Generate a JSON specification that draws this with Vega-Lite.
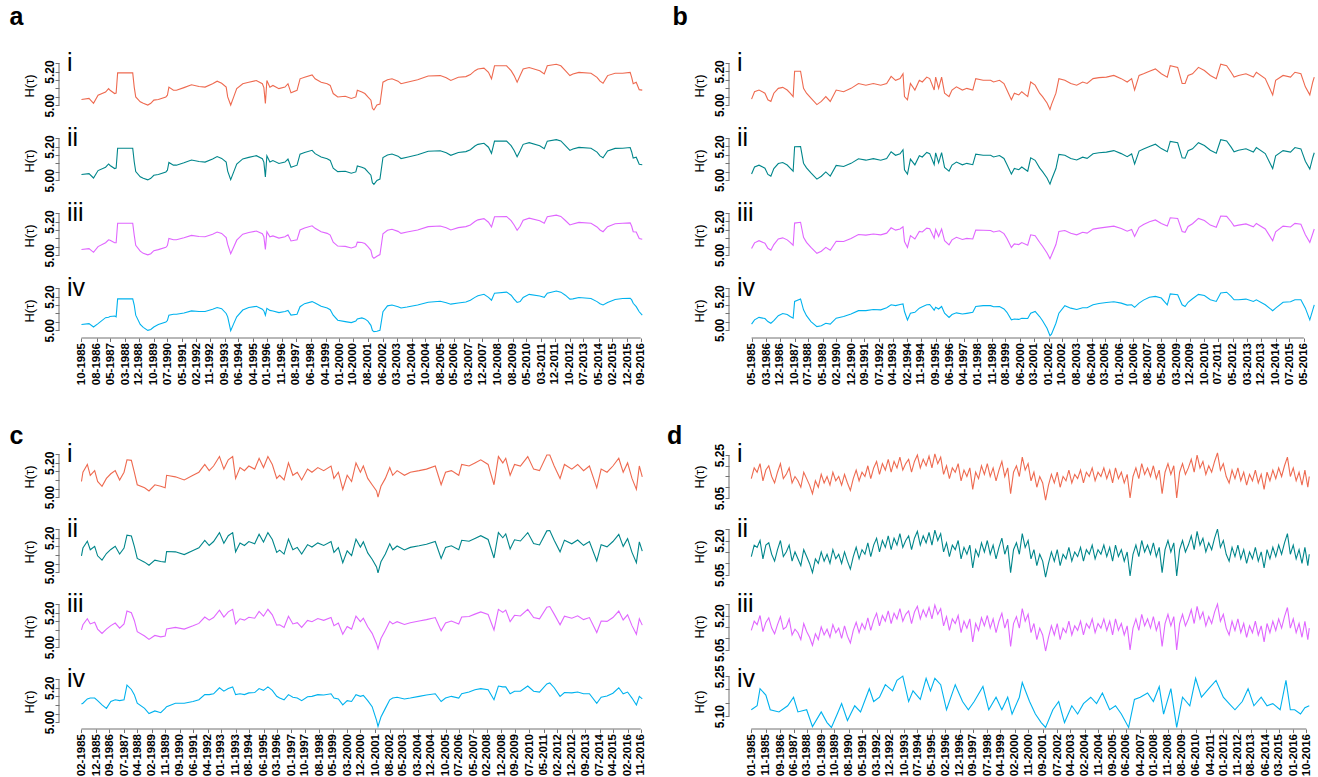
{
"$schema":"https://vega.github.io/schema/vega-lite/v6.json",
"background":"white",
"padding":{"left":9,"top":5,"right":0,"bottom":0},
"config":{
 "view":{"stroke":null},
 "font":"Liberation Sans",
 "axis":{"grid":false,"domain":false,"tickColor":"#707070","tickSize":4,"tickWidth":1,"labelColor":"black","labelFont":"Liberation Sans","titleFont":"Liberation Sans","labelFontWeight":"bold","labelFontSize":12,"titleFontWeight":"normal","titleFontSize":13,"titleColor":"black","labelOverlap":false,"labelFlush":false,"labelBound":false},
 "axisY":{"labelAngle":-90,"labelAlign":"center","labelBaseline":"alphabetic","labelPadding":2,"titlePadding":7},
 "axisX":{"labelAngle":-90,"labelAlign":"right","labelBaseline":"middle","labelPadding":1,"tickSize":3.5,"labelFontSize":11.5},
 "rule":{"color":"#707070","strokeWidth":1},
 "text":{"font":"Liberation Sans","color":"black"}
},
"datasets":{
"A":[
{"x":9,"i":5.035,"ii":5.035,"iii":5.035,"iv":5.035},
{"x":14,"i":5.041,"ii":5.04,"iii":5.04,"iv":5.04},
{"x":17,"i":5.012,"ii":5.014,"iii":5.018,"iv":5.02},
{"x":20,"i":5.06,"ii":5.058,"iii":5.052,"iv":5.04},
{"x":25,"i":5.079,"ii":5.078,"iii":5.075,"iv":5.075},
{"x":27,"i":5.099,"ii":5.097,"iii":5.092,"iv":5.078},
{"x":28,"i":5.089,"ii":5.088,"iii":5.09,"iv":5.082},
{"x":31,"i":5.07,"ii":5.07,"iii":5.075,"iv":5.085},
{"x":32,"i":5.073,"ii":5.073,"iii":5.075,"iv":5.08},
{"x":33,"i":5.192,"ii":5.19,"iii":5.19,"iv":5.186},
{"x":43,"i":5.192,"ii":5.19,"iii":5.19,"iv":5.186},
{"x":44,"i":5.108,"ii":5.11,"iii":5.12,"iv":5.15},
{"x":45,"i":5.05,"ii":5.052,"iii":5.06,"iv":5.09},
{"x":48,"i":5.021,"ii":5.021,"iii":5.025,"iv":5.035},
{"x":50,"i":5.012,"ii":5.012,"iii":5.012,"iv":5.018},
{"x":53,"i":5.002,"ii":5.003,"iii":5.003,"iv":5.0},
{"x":55,"i":5.012,"ii":5.012,"iii":5.01,"iv":5.005},
{"x":57,"i":5.031,"ii":5.03,"iii":5.028,"iv":5.02},
{"x":60,"i":5.035,"ii":5.035,"iii":5.034,"iv":5.035},
{"x":65,"i":5.05,"ii":5.05,"iii":5.048,"iv":5.05},
{"x":66,"i":5.06,"ii":5.06,"iii":5.058,"iv":5.058},
{"x":67,"i":5.108,"ii":5.106,"iii":5.1,"iv":5.09},
{"x":70,"i":5.089,"ii":5.09,"iii":5.092,"iv":5.095},
{"x":72,"i":5.089,"ii":5.09,"iii":5.092,"iv":5.095},
{"x":77,"i":5.105,"ii":5.104,"iii":5.104,"iv":5.103},
{"x":82,"i":5.122,"ii":5.12,"iii":5.118,"iv":5.115},
{"x":87,"i":5.112,"ii":5.112,"iii":5.112,"iv":5.112},
{"x":91,"i":5.108,"ii":5.108,"iii":5.11,"iv":5.112},
{"x":96,"i":5.128,"ii":5.126,"iii":5.125,"iv":5.125},
{"x":99,"i":5.143,"ii":5.141,"iii":5.138,"iv":5.135},
{"x":102,"i":5.131,"ii":5.13,"iii":5.13,"iv":5.128},
{"x":105,"i":5.108,"ii":5.108,"iii":5.105,"iv":5.1},
{"x":106,"i":5.05,"ii":5.055,"iii":5.065,"iv":5.08},
{"x":108,"i":5.002,"ii":5.004,"iii":5.01,"iv":4.998},
{"x":110,"i":5.05,"ii":5.05,"iii":5.05,"iv":5.04},
{"x":112,"i":5.099,"ii":5.097,"iii":5.09,"iv":5.08},
{"x":116,"i":5.128,"ii":5.127,"iii":5.125,"iv":5.12},
{"x":120,"i":5.137,"ii":5.136,"iii":5.135,"iv":5.135},
{"x":125,"i":5.147,"ii":5.146,"iii":5.144,"iv":5.142},
{"x":129,"i":5.128,"ii":5.128,"iii":5.128,"iv":5.125},
{"x":130,"i":5.105,"ii":5.108,"iii":5.11,"iv":5.115},
{"x":131,"i":5.012,"ii":5.02,"iii":5.035,"iv":5.09},
{"x":132,"i":5.147,"ii":5.145,"iii":5.14,"iv":5.13},
{"x":134,"i":5.108,"ii":5.108,"iii":5.11,"iv":5.118},
{"x":136,"i":5.118,"ii":5.117,"iii":5.115,"iv":5.115},
{"x":140,"i":5.099,"ii":5.1,"iii":5.102,"iv":5.105},
{"x":144,"i":5.108,"ii":5.108,"iii":5.11,"iv":5.112},
{"x":146,"i":5.128,"ii":5.126,"iii":5.122,"iv":5.118},
{"x":148,"i":5.074,"ii":5.078,"iii":5.085,"iv":5.09},
{"x":152,"i":5.089,"ii":5.09,"iii":5.092,"iv":5.095},
{"x":154,"i":5.157,"ii":5.155,"iii":5.15,"iv":5.14},
{"x":157,"i":5.166,"ii":5.165,"iii":5.162,"iv":5.158},
{"x":162,"i":5.18,"ii":5.178,"iii":5.175,"iv":5.17},
{"x":164,"i":5.157,"ii":5.158,"iii":5.16,"iv":5.162},
{"x":168,"i":5.137,"ii":5.138,"iii":5.14,"iv":5.142},
{"x":172,"i":5.128,"ii":5.128,"iii":5.13,"iv":5.132},
{"x":174,"i":5.118,"ii":5.118,"iii":5.12,"iv":5.122},
{"x":176,"i":5.07,"ii":5.072,"iii":5.078,"iv":5.09},
{"x":179,"i":5.05,"ii":5.052,"iii":5.055,"iv":5.06},
{"x":184,"i":5.054,"ii":5.054,"iii":5.053,"iv":5.052},
{"x":188,"i":5.041,"ii":5.042,"iii":5.044,"iv":5.046},
{"x":191,"i":5.05,"ii":5.05,"iii":5.052,"iv":5.055},
{"x":192,"i":5.089,"ii":5.085,"iii":5.078,"iv":5.068},
{"x":195,"i":5.079,"ii":5.078,"iii":5.076,"iv":5.074},
{"x":197,"i":5.07,"ii":5.07,"iii":5.07,"iv":5.068},
{"x":199,"i":5.05,"ii":5.05,"iii":5.052,"iv":5.055},
{"x":201,"i":5.031,"ii":5.031,"iii":5.03,"iv":5.03},
{"x":202,"i":4.983,"ii":4.986,"iii":4.992,"iv":5.0},
{"x":203,"i":4.973,"ii":4.976,"iii":4.983,"iv":4.993},
{"x":205,"i":5.002,"ii":5.0,"iii":4.995,"iv":4.995},
{"x":207,"i":5.008,"ii":5.008,"iii":5.005,"iv":5.0},
{"x":209,"i":5.137,"ii":5.135,"iii":5.128,"iv":5.11},
{"x":212,"i":5.151,"ii":5.15,"iii":5.148,"iv":5.145},
{"x":215,"i":5.157,"ii":5.156,"iii":5.154,"iv":5.15},
{"x":219,"i":5.143,"ii":5.143,"iii":5.142,"iv":5.14},
{"x":221,"i":5.128,"ii":5.129,"iii":5.13,"iv":5.132},
{"x":225,"i":5.137,"ii":5.137,"iii":5.138,"iv":5.138},
{"x":232,"i":5.151,"ii":5.151,"iii":5.15,"iv":5.15},
{"x":239,"i":5.174,"ii":5.172,"iii":5.17,"iv":5.166},
{"x":247,"i":5.176,"ii":5.175,"iii":5.174,"iv":5.172},
{"x":251,"i":5.163,"ii":5.163,"iii":5.163,"iv":5.163},
{"x":254,"i":5.147,"ii":5.148,"iii":5.15,"iv":5.155},
{"x":259,"i":5.166,"ii":5.165,"iii":5.164,"iv":5.162},
{"x":264,"i":5.17,"ii":5.17,"iii":5.17,"iv":5.168},
{"x":267,"i":5.182,"ii":5.181,"iii":5.18,"iv":5.178},
{"x":270,"i":5.205,"ii":5.203,"iii":5.2,"iv":5.195},
{"x":272,"i":5.215,"ii":5.213,"iii":5.21,"iv":5.205},
{"x":276,"i":5.22,"ii":5.219,"iii":5.217,"iv":5.213},
{"x":279,"i":5.195,"ii":5.196,"iii":5.196,"iv":5.195},
{"x":281,"i":5.157,"ii":5.16,"iii":5.168,"iv":5.178},
{"x":283,"i":5.234,"ii":5.232,"iii":5.228,"iv":5.22},
{"x":291,"i":5.234,"ii":5.232,"iii":5.23,"iv":5.226},
{"x":294,"i":5.205,"ii":5.205,"iii":5.205,"iv":5.208},
{"x":296,"i":5.176,"ii":5.177,"iii":5.18,"iv":5.185},
{"x":298,"i":5.137,"ii":5.14,"iii":5.148,"iv":5.165},
{"x":300,"i":5.176,"ii":5.175,"iii":5.172,"iv":5.17},
{"x":302,"i":5.215,"ii":5.213,"iii":5.208,"iv":5.195},
{"x":306,"i":5.224,"ii":5.223,"iii":5.22,"iv":5.213},
{"x":313,"i":5.205,"ii":5.205,"iii":5.205,"iv":5.203},
{"x":316,"i":5.186,"ii":5.187,"iii":5.19,"iv":5.195},
{"x":318,"i":5.234,"ii":5.232,"iii":5.228,"iv":5.22},
{"x":324,"i":5.243,"ii":5.241,"iii":5.238,"iv":5.233},
{"x":327,"i":5.234,"ii":5.233,"iii":5.23,"iv":5.226},
{"x":330,"i":5.205,"ii":5.205,"iii":5.206,"iv":5.208},
{"x":333,"i":5.176,"ii":5.177,"iii":5.18,"iv":5.185},
{"x":335,"i":5.186,"ii":5.186,"iii":5.186,"iv":5.186},
{"x":339,"i":5.195,"ii":5.195,"iii":5.195,"iv":5.194},
{"x":347,"i":5.19,"ii":5.19,"iii":5.19,"iv":5.188},
{"x":351,"i":5.166,"ii":5.167,"iii":5.168,"iv":5.17},
{"x":353,"i":5.143,"ii":5.145,"iii":5.15,"iv":5.158},
{"x":355,"i":5.131,"ii":5.134,"iii":5.14,"iv":5.15},
{"x":358,"i":5.176,"ii":5.174,"iii":5.17,"iv":5.165},
{"x":363,"i":5.19,"ii":5.189,"iii":5.187,"iv":5.183},
{"x":368,"i":5.19,"ii":5.19,"iii":5.19,"iv":5.188},
{"x":373,"i":5.195,"ii":5.194,"iii":5.192,"iv":5.19},
{"x":374,"i":5.166,"ii":5.168,"iii":5.172,"iv":5.18},
{"x":375,"i":5.128,"ii":5.132,"iii":5.14,"iv":5.16},
{"x":377,"i":5.137,"ii":5.137,"iii":5.138,"iv":5.14},
{"x":379,"i":5.093,"ii":5.095,"iii":5.1,"iv":5.11},
{"x":381,"i":5.09,"ii":5.092,"iii":5.095,"iv":5.09}
],
"B":[
{"x":4,"i":5.035,"ii":5.035,"iii":5.038,"iv":5.035},
{"x":6,"i":5.079,"ii":5.077,"iii":5.072,"iv":5.06},
{"x":9,"i":5.089,"ii":5.088,"iii":5.085,"iv":5.075},
{"x":13,"i":5.07,"ii":5.07,"iii":5.07,"iv":5.068},
{"x":15,"i":5.031,"ii":5.033,"iii":5.04,"iv":5.05},
{"x":17,"i":5.021,"ii":5.023,"iii":5.028,"iv":5.04},
{"x":19,"i":5.07,"ii":5.068,"iii":5.062,"iv":5.055},
{"x":22,"i":5.099,"ii":5.098,"iii":5.095,"iv":5.085},
{"x":25,"i":5.105,"ii":5.104,"iii":5.102,"iv":5.098},
{"x":28,"i":5.089,"ii":5.089,"iii":5.09,"iv":5.092},
{"x":30,"i":5.07,"ii":5.071,"iii":5.075,"iv":5.08},
{"x":32,"i":5.05,"ii":5.052,"iii":5.058,"iv":5.07},
{"x":33,"i":5.201,"ii":5.198,"iii":5.19,"iv":5.17},
{"x":37,"i":5.201,"ii":5.199,"iii":5.195,"iv":5.185},
{"x":39,"i":5.099,"ii":5.1,"iii":5.105,"iv":5.12},
{"x":41,"i":5.07,"ii":5.072,"iii":5.075,"iv":5.085},
{"x":44,"i":5.041,"ii":5.042,"iii":5.045,"iv":5.05},
{"x":48,"i":5.002,"ii":5.005,"iii":5.01,"iv":5.02},
{"x":51,"i":5.021,"ii":5.022,"iii":5.022,"iv":5.025},
{"x":54,"i":5.05,"ii":5.048,"iii":5.045,"iv":5.04},
{"x":57,"i":5.021,"ii":5.023,"iii":5.028,"iv":5.035},
{"x":61,"i":5.089,"ii":5.087,"iii":5.082,"iv":5.07},
{"x":66,"i":5.079,"ii":5.08,"iii":5.08,"iv":5.08},
{"x":71,"i":5.099,"ii":5.099,"iii":5.098,"iv":5.095},
{"x":76,"i":5.128,"ii":5.126,"iii":5.122,"iv":5.115},
{"x":81,"i":5.118,"ii":5.118,"iii":5.118,"iv":5.115},
{"x":86,"i":5.128,"ii":5.127,"iii":5.125,"iv":5.122},
{"x":91,"i":5.118,"ii":5.118,"iii":5.12,"iv":5.12},
{"x":95,"i":5.128,"ii":5.128,"iii":5.13,"iv":5.132},
{"x":98,"i":5.17,"ii":5.168,"iii":5.162,"iv":5.15},
{"x":101,"i":5.147,"ii":5.147,"iii":5.148,"iv":5.145},
{"x":104,"i":5.157,"ii":5.156,"iii":5.155,"iv":5.152},
{"x":106,"i":5.186,"ii":5.18,"iii":5.168,"iv":5.155},
{"x":107,"i":5.05,"ii":5.06,"iii":5.08,"iv":5.11},
{"x":109,"i":5.031,"ii":5.035,"iii":5.045,"iv":5.06},
{"x":111,"i":5.128,"ii":5.124,"iii":5.115,"iv":5.1},
{"x":114,"i":5.089,"ii":5.09,"iii":5.095,"iv":5.105},
{"x":117,"i":5.147,"ii":5.145,"iii":5.14,"iv":5.13},
{"x":119,"i":5.137,"ii":5.137,"iii":5.137,"iv":5.138},
{"x":122,"i":5.166,"ii":5.164,"iii":5.16,"iv":5.15},
{"x":124,"i":5.157,"ii":5.157,"iii":5.156,"iv":5.152},
{"x":127,"i":5.089,"ii":5.092,"iii":5.1,"iv":5.118},
{"x":128,"i":5.166,"ii":5.162,"iii":5.152,"iv":5.135},
{"x":130,"i":5.099,"ii":5.102,"iii":5.11,"iv":5.125},
{"x":132,"i":5.166,"ii":5.163,"iii":5.155,"iv":5.14},
{"x":134,"i":5.07,"ii":5.075,"iii":5.085,"iv":5.1},
{"x":137,"i":5.05,"ii":5.053,"iii":5.06,"iv":5.075},
{"x":139,"i":5.089,"ii":5.089,"iii":5.09,"iv":5.092},
{"x":142,"i":5.108,"ii":5.107,"iii":5.105,"iv":5.102},
{"x":146,"i":5.089,"ii":5.09,"iii":5.092,"iv":5.095},
{"x":149,"i":5.099,"ii":5.099,"iii":5.099,"iv":5.099},
{"x":153,"i":5.089,"ii":5.091,"iii":5.095,"iv":5.105},
{"x":155,"i":5.157,"ii":5.154,"iii":5.148,"iv":5.14},
{"x":160,"i":5.147,"ii":5.147,"iii":5.147,"iv":5.145},
{"x":165,"i":5.147,"ii":5.147,"iii":5.146,"iv":5.145},
{"x":167,"i":5.137,"ii":5.137,"iii":5.137,"iv":5.138},
{"x":171,"i":5.147,"ii":5.146,"iii":5.144,"iv":5.14},
{"x":174,"i":5.128,"ii":5.128,"iii":5.127,"iv":5.125},
{"x":176,"i":5.089,"ii":5.092,"iii":5.098,"iv":5.105},
{"x":179,"i":5.031,"ii":5.035,"iii":5.045,"iv":5.06},
{"x":181,"i":5.07,"ii":5.069,"iii":5.066,"iv":5.065},
{"x":184,"i":5.06,"ii":5.061,"iii":5.062,"iv":5.063},
{"x":186,"i":5.079,"ii":5.077,"iii":5.074,"iv":5.07},
{"x":190,"i":5.05,"ii":5.052,"iii":5.058,"iv":5.068},
{"x":192,"i":5.137,"ii":5.132,"iii":5.12,"iv":5.1},
{"x":195,"i":5.118,"ii":5.117,"iii":5.115,"iv":5.11},
{"x":198,"i":5.07,"ii":5.072,"iii":5.076,"iv":5.08},
{"x":200,"i":5.05,"ii":5.05,"iii":5.052,"iv":5.055},
{"x":203,"i":5.012,"ii":5.012,"iii":5.012,"iv":5.01},
{"x":205,"i":4.973,"ii":4.975,"iii":4.978,"iv":4.965},
{"x":206,"i":5.002,"ii":5.001,"iii":4.998,"iv":4.975},
{"x":209,"i":5.07,"ii":5.068,"iii":5.062,"iv":5.04},
{"x":211,"i":5.157,"ii":5.152,"iii":5.14,"iv":5.1},
{"x":215,"i":5.147,"ii":5.147,"iii":5.146,"iv":5.145},
{"x":219,"i":5.128,"ii":5.128,"iii":5.129,"iv":5.13},
{"x":223,"i":5.118,"ii":5.119,"iii":5.12,"iv":5.122},
{"x":227,"i":5.137,"ii":5.136,"iii":5.135,"iv":5.132},
{"x":230,"i":5.128,"ii":5.129,"iii":5.13,"iv":5.132},
{"x":234,"i":5.157,"ii":5.156,"iii":5.154,"iv":5.15},
{"x":238,"i":5.163,"ii":5.162,"iii":5.16,"iv":5.158},
{"x":243,"i":5.166,"ii":5.166,"iii":5.166,"iv":5.164},
{"x":248,"i":5.176,"ii":5.175,"iii":5.172,"iv":5.168},
{"x":253,"i":5.157,"ii":5.157,"iii":5.158,"iv":5.16},
{"x":257,"i":5.137,"ii":5.139,"iii":5.142,"iv":5.148},
{"x":260,"i":5.157,"ii":5.155,"iii":5.152,"iv":5.15},
{"x":262,"i":5.089,"ii":5.095,"iii":5.11,"iv":5.135},
{"x":265,"i":5.176,"ii":5.172,"iii":5.165,"iv":5.16},
{"x":268,"i":5.186,"ii":5.185,"iii":5.182,"iv":5.178},
{"x":272,"i":5.201,"ii":5.2,"iii":5.198,"iv":5.195},
{"x":276,"i":5.215,"ii":5.213,"iii":5.209,"iv":5.2},
{"x":280,"i":5.186,"ii":5.187,"iii":5.188,"iv":5.19},
{"x":284,"i":5.166,"ii":5.168,"iii":5.172,"iv":5.15},
{"x":286,"i":5.234,"ii":5.23,"iii":5.222,"iv":5.215},
{"x":291,"i":5.224,"ii":5.222,"iii":5.218,"iv":5.21},
{"x":294,"i":5.128,"ii":5.132,"iii":5.14,"iv":5.15},
{"x":296,"i":5.128,"ii":5.13,"iii":5.135,"iv":5.14},
{"x":298,"i":5.176,"ii":5.174,"iii":5.17,"iv":5.165},
{"x":301,"i":5.186,"ii":5.186,"iii":5.186,"iv":5.186},
{"x":305,"i":5.224,"ii":5.222,"iii":5.218,"iv":5.212},
{"x":309,"i":5.205,"ii":5.205,"iii":5.205,"iv":5.205},
{"x":313,"i":5.176,"ii":5.177,"iii":5.178,"iv":5.18},
{"x":317,"i":5.157,"ii":5.16,"iii":5.165,"iv":5.17},
{"x":320,"i":5.243,"ii":5.24,"iii":5.232,"iv":5.22},
{"x":324,"i":5.234,"ii":5.233,"iii":5.23,"iv":5.225},
{"x":327,"i":5.195,"ii":5.196,"iii":5.198,"iv":5.2},
{"x":329,"i":5.166,"ii":5.168,"iii":5.172,"iv":5.18},
{"x":332,"i":5.176,"ii":5.177,"iii":5.178,"iv":5.18},
{"x":337,"i":5.186,"ii":5.186,"iii":5.185,"iv":5.184},
{"x":342,"i":5.166,"ii":5.167,"iii":5.168,"iv":5.17},
{"x":344,"i":5.195,"ii":5.193,"iii":5.188,"iv":5.18},
{"x":350,"i":5.157,"ii":5.157,"iii":5.155,"iv":5.15},
{"x":355,"i":5.06,"ii":5.068,"iii":5.085,"iv":5.115},
{"x":357,"i":5.147,"ii":5.144,"iii":5.138,"iv":5.13},
{"x":362,"i":5.176,"ii":5.175,"iii":5.172,"iv":5.165},
{"x":367,"i":5.166,"ii":5.166,"iii":5.167,"iv":5.168},
{"x":370,"i":5.195,"ii":5.193,"iii":5.188,"iv":5.18},
{"x":374,"i":5.186,"ii":5.185,"iii":5.183,"iv":5.18},
{"x":377,"i":5.108,"ii":5.112,"iii":5.12,"iv":5.13},
{"x":380,"i":5.06,"ii":5.065,"iii":5.075,"iv":5.06},
{"x":382,"i":5.137,"ii":5.134,"iii":5.128,"iv":5.12},
{"x":383,"i":5.166,"ii":5.162,"iii":5.155,"iv":5.15}
],
"C":[
{"x":1,"i":5.091,"ii":5.095,"iii":5.1,"iv":5.105},
{"x":2,"i":5.145,"ii":5.14,"iii":5.13,"iv":5.11},
{"x":5,"i":5.19,"ii":5.18,"iii":5.165,"iv":5.135},
{"x":7,"i":5.127,"ii":5.13,"iii":5.135,"iv":5.14},
{"x":10,"i":5.154,"ii":5.15,"iii":5.145,"iv":5.14},
{"x":12,"i":5.091,"ii":5.095,"iii":5.105,"iv":5.125},
{"x":15,"i":5.063,"ii":5.07,"iii":5.08,"iv":5.1},
{"x":18,"i":5.109,"ii":5.108,"iii":5.105,"iv":5.08},
{"x":21,"i":5.136,"ii":5.132,"iii":5.125,"iv":5.12},
{"x":24,"i":5.154,"ii":5.15,"iii":5.14,"iv":5.13},
{"x":27,"i":5.1,"ii":5.105,"iii":5.11,"iv":5.125},
{"x":30,"i":5.145,"ii":5.14,"iii":5.135,"iv":5.13},
{"x":32,"i":5.217,"ii":5.215,"iii":5.21,"iv":5.215},
{"x":35,"i":5.214,"ii":5.21,"iii":5.2,"iv":5.19},
{"x":37,"i":5.145,"ii":5.15,"iii":5.155,"iv":5.16},
{"x":39,"i":5.072,"ii":5.08,"iii":5.09,"iv":5.11},
{"x":44,"i":5.054,"ii":5.058,"iii":5.065,"iv":5.08},
{"x":47,"i":5.036,"ii":5.04,"iii":5.045,"iv":5.05},
{"x":51,"i":5.072,"ii":5.07,"iii":5.068,"iv":5.065},
{"x":55,"i":5.063,"ii":5.062,"iii":5.06,"iv":5.055},
{"x":58,"i":5.054,"ii":5.058,"iii":5.065,"iv":5.08},
{"x":59,"i":5.127,"ii":5.12,"iii":5.105,"iv":5.09},
{"x":65,"i":5.118,"ii":5.118,"iii":5.115,"iv":5.11},
{"x":71,"i":5.1,"ii":5.102,"iii":5.105,"iv":5.11},
{"x":77,"i":5.127,"ii":5.126,"iii":5.124,"iv":5.12},
{"x":81,"i":5.145,"ii":5.142,"iii":5.138,"iv":5.13},
{"x":85,"i":5.19,"ii":5.185,"iii":5.175,"iv":5.16},
{"x":88,"i":5.154,"ii":5.155,"iii":5.157,"iv":5.16},
{"x":91,"i":5.181,"ii":5.178,"iii":5.172,"iv":5.165},
{"x":95,"i":5.236,"ii":5.23,"iii":5.215,"iv":5.2},
{"x":98,"i":5.163,"ii":5.168,"iii":5.175,"iv":5.18},
{"x":101,"i":5.217,"ii":5.212,"iii":5.205,"iv":5.195},
{"x":104,"i":5.236,"ii":5.23,"iii":5.22,"iv":5.205},
{"x":106,"i":5.109,"ii":5.118,"iii":5.135,"iv":5.16},
{"x":109,"i":5.172,"ii":5.17,"iii":5.165,"iv":5.165},
{"x":112,"i":5.154,"ii":5.155,"iii":5.157,"iv":5.16},
{"x":115,"i":5.181,"ii":5.178,"iii":5.174,"iv":5.17},
{"x":119,"i":5.163,"ii":5.165,"iii":5.168,"iv":5.172},
{"x":122,"i":5.226,"ii":5.22,"iii":5.208,"iv":5.195},
{"x":125,"i":5.172,"ii":5.175,"iii":5.18,"iv":5.185},
{"x":128,"i":5.236,"ii":5.23,"iii":5.22,"iv":5.205},
{"x":131,"i":5.19,"ii":5.19,"iii":5.188,"iv":5.185},
{"x":134,"i":5.109,"ii":5.115,"iii":5.128,"iv":5.15},
{"x":136,"i":5.127,"ii":5.128,"iii":5.13,"iv":5.14},
{"x":139,"i":5.1,"ii":5.105,"iii":5.115,"iv":5.13},
{"x":142,"i":5.199,"ii":5.192,"iii":5.18,"iv":5.16},
{"x":145,"i":5.127,"ii":5.13,"iii":5.135,"iv":5.145},
{"x":148,"i":5.145,"ii":5.144,"iii":5.142,"iv":5.14},
{"x":151,"i":5.1,"ii":5.105,"iii":5.115,"iv":5.125},
{"x":155,"i":5.163,"ii":5.16,"iii":5.155,"iv":5.148},
{"x":158,"i":5.145,"ii":5.146,"iii":5.148,"iv":5.15},
{"x":162,"i":5.172,"ii":5.17,"iii":5.166,"iv":5.16},
{"x":166,"i":5.154,"ii":5.155,"iii":5.156,"iv":5.158},
{"x":171,"i":5.181,"ii":5.178,"iii":5.172,"iv":5.165},
{"x":173,"i":5.109,"ii":5.115,"iii":5.125,"iv":5.14},
{"x":176,"i":5.145,"ii":5.143,"iii":5.14,"iv":5.135},
{"x":179,"i":5.045,"ii":5.055,"iii":5.075,"iv":5.1},
{"x":182,"i":5.127,"ii":5.124,"iii":5.12,"iv":5.125},
{"x":185,"i":5.091,"ii":5.096,"iii":5.105,"iv":5.12},
{"x":188,"i":5.199,"ii":5.192,"iii":5.18,"iv":5.16},
{"x":191,"i":5.145,"ii":5.146,"iii":5.148,"iv":5.15},
{"x":193,"i":5.181,"ii":5.176,"iii":5.168,"iv":5.155},
{"x":196,"i":5.109,"ii":5.112,"iii":5.118,"iv":5.125},
{"x":199,"i":5.072,"ii":5.075,"iii":5.08,"iv":5.09},
{"x":202,"i":5.036,"ii":5.03,"iii":5.02,"iv":5.01},
{"x":203,"i":5.0,"ii":4.995,"iii":4.99,"iv":4.975},
{"x":205,"i":5.063,"ii":5.06,"iii":5.05,"iv":5.03},
{"x":208,"i":5.109,"ii":5.105,"iii":5.098,"iv":5.08},
{"x":211,"i":5.172,"ii":5.165,"iii":5.15,"iv":5.13},
{"x":213,"i":5.127,"ii":5.13,"iii":5.135,"iv":5.14},
{"x":216,"i":5.154,"ii":5.152,"iii":5.148,"iv":5.145},
{"x":221,"i":5.127,"ii":5.129,"iii":5.132,"iv":5.135},
{"x":225,"i":5.145,"ii":5.144,"iii":5.142,"iv":5.14},
{"x":231,"i":5.154,"ii":5.153,"iii":5.152,"iv":5.15},
{"x":236,"i":5.163,"ii":5.162,"iii":5.16,"iv":5.158},
{"x":242,"i":5.181,"ii":5.178,"iii":5.172,"iv":5.165},
{"x":246,"i":5.072,"ii":5.08,"iii":5.095,"iv":5.12},
{"x":249,"i":5.145,"ii":5.143,"iii":5.14,"iv":5.14},
{"x":253,"i":5.154,"ii":5.153,"iii":5.152,"iv":5.15},
{"x":258,"i":5.127,"ii":5.13,"iii":5.135,"iv":5.14},
{"x":260,"i":5.19,"ii":5.185,"iii":5.175,"iv":5.165},
{"x":265,"i":5.181,"ii":5.18,"iii":5.178,"iv":5.175},
{"x":269,"i":5.199,"ii":5.196,"iii":5.192,"iv":5.188},
{"x":273,"i":5.217,"ii":5.212,"iii":5.205,"iv":5.195},
{"x":278,"i":5.19,"ii":5.19,"iii":5.19,"iv":5.188},
{"x":282,"i":5.072,"ii":5.082,"iii":5.1,"iv":5.13},
{"x":285,"i":5.236,"ii":5.23,"iii":5.22,"iv":5.21},
{"x":288,"i":5.199,"ii":5.2,"iii":5.202,"iv":5.205},
{"x":290,"i":5.226,"ii":5.222,"iii":5.215,"iv":5.205},
{"x":293,"i":5.127,"ii":5.135,"iii":5.148,"iv":5.165},
{"x":296,"i":5.19,"ii":5.188,"iii":5.185,"iv":5.18},
{"x":300,"i":5.181,"ii":5.181,"iii":5.181,"iv":5.18},
{"x":305,"i":5.236,"ii":5.23,"iii":5.22,"iv":5.21},
{"x":309,"i":5.163,"ii":5.166,"iii":5.172,"iv":5.18},
{"x":313,"i":5.154,"ii":5.158,"iii":5.165,"iv":5.175},
{"x":318,"i":5.245,"ii":5.24,"iii":5.232,"iv":5.222},
{"x":320,"i":5.245,"ii":5.242,"iii":5.236,"iv":5.228},
{"x":323,"i":5.181,"ii":5.185,"iii":5.192,"iv":5.2},
{"x":327,"i":5.109,"ii":5.118,"iii":5.13,"iv":5.15},
{"x":330,"i":5.19,"ii":5.186,"iii":5.18,"iv":5.172},
{"x":335,"i":5.163,"ii":5.165,"iii":5.168,"iv":5.17},
{"x":339,"i":5.19,"ii":5.187,"iii":5.182,"iv":5.175},
{"x":343,"i":5.154,"ii":5.156,"iii":5.16,"iv":5.165},
{"x":347,"i":5.181,"ii":5.178,"iii":5.172,"iv":5.165},
{"x":352,"i":5.054,"ii":5.065,"iii":5.085,"iv":5.11},
{"x":355,"i":5.163,"ii":5.16,"iii":5.152,"iv":5.145},
{"x":359,"i":5.145,"ii":5.147,"iii":5.15,"iv":5.152},
{"x":363,"i":5.181,"ii":5.178,"iii":5.172,"iv":5.168},
{"x":367,"i":5.226,"ii":5.22,"iii":5.21,"iv":5.2},
{"x":370,"i":5.145,"ii":5.15,"iii":5.158,"iv":5.165},
{"x":373,"i":5.199,"ii":5.195,"iii":5.188,"iv":5.175},
{"x":376,"i":5.109,"ii":5.115,"iii":5.125,"iv":5.14},
{"x":379,"i":5.045,"ii":5.055,"iii":5.075,"iv":5.1},
{"x":381,"i":5.181,"ii":5.176,"iii":5.165,"iv":5.15},
{"x":383,"i":5.118,"ii":5.122,"iii":5.128,"iv":5.135}
],
"D":[
{"x":0,"i":5.14,"ii":5.13,"iii":5.135},
{"x":2,"i":5.19,"ii":5.18,"iii":5.175},
{"x":4,"i":5.17,"ii":5.17,"iii":5.16},
{"x":6,"i":5.21,"ii":5.2,"iii":5.2},
{"x":8,"i":5.13,"ii":5.12,"iii":5.13},
{"x":10,"i":5.18,"ii":5.18,"iii":5.17},
{"x":12,"i":5.2,"ii":5.19,"iii":5.19},
{"x":14,"i":5.15,"ii":5.14,"iii":5.145},
{"x":16,"i":5.12,"ii":5.11,"iii":5.12},
{"x":18,"i":5.17,"ii":5.16,"iii":5.16},
{"x":20,"i":5.21,"ii":5.2,"iii":5.195},
{"x":22,"i":5.14,"ii":5.13,"iii":5.14},
{"x":24,"i":5.16,"ii":5.15,"iii":5.15},
{"x":26,"i":5.19,"ii":5.18,"iii":5.185},
{"x":28,"i":5.12,"ii":5.11,"iii":5.115},
{"x":30,"i":5.15,"ii":5.15,"iii":5.14},
{"x":32,"i":5.13,"ii":5.12,"iii":5.125},
{"x":34,"i":5.1,"ii":5.09,"iii":5.095},
{"x":36,"i":5.17,"ii":5.16,"iii":5.165},
{"x":38,"i":5.14,"ii":5.13,"iii":5.13},
{"x":40,"i":5.11,"ii":5.1,"iii":5.105},
{"x":42,"i":5.07,"ii":5.06,"iii":5.07},
{"x":44,"i":5.13,"ii":5.12,"iii":5.12},
{"x":46,"i":5.1,"ii":5.1,"iii":5.095},
{"x":48,"i":5.16,"ii":5.15,"iii":5.15},
{"x":50,"i":5.12,"ii":5.11,"iii":5.115},
{"x":52,"i":5.15,"ii":5.14,"iii":5.14},
{"x":54,"i":5.11,"ii":5.1,"iii":5.105},
{"x":56,"i":5.17,"ii":5.16,"iii":5.16},
{"x":58,"i":5.13,"ii":5.12,"iii":5.125},
{"x":60,"i":5.15,"ii":5.14,"iii":5.145},
{"x":62,"i":5.11,"ii":5.1,"iii":5.1},
{"x":64,"i":5.16,"ii":5.15,"iii":5.155},
{"x":66,"i":5.12,"ii":5.11,"iii":5.11},
{"x":68,"i":5.085,"ii":5.075,"iii":5.08},
{"x":70,"i":5.14,"ii":5.13,"iii":5.135},
{"x":72,"i":5.18,"ii":5.17,"iii":5.17},
{"x":74,"i":5.13,"ii":5.12,"iii":5.125},
{"x":76,"i":5.17,"ii":5.16,"iii":5.165},
{"x":78,"i":5.15,"ii":5.14,"iii":5.14},
{"x":80,"i":5.2,"ii":5.19,"iii":5.19},
{"x":82,"i":5.14,"ii":5.13,"iii":5.135},
{"x":84,"i":5.19,"ii":5.18,"iii":5.18},
{"x":86,"i":5.22,"ii":5.21,"iii":5.21},
{"x":88,"i":5.16,"ii":5.15,"iii":5.155},
{"x":90,"i":5.21,"ii":5.2,"iii":5.2},
{"x":92,"i":5.18,"ii":5.17,"iii":5.175},
{"x":94,"i":5.23,"ii":5.22,"iii":5.22},
{"x":96,"i":5.17,"ii":5.16,"iii":5.165},
{"x":98,"i":5.22,"ii":5.21,"iii":5.21},
{"x":100,"i":5.19,"ii":5.18,"iii":5.185},
{"x":102,"i":5.24,"ii":5.23,"iii":5.23},
{"x":104,"i":5.18,"ii":5.17,"iii":5.175},
{"x":106,"i":5.21,"ii":5.2,"iii":5.205},
{"x":108,"i":5.23,"ii":5.22,"iii":5.22},
{"x":110,"i":5.17,"ii":5.16,"iii":5.165},
{"x":112,"i":5.22,"ii":5.21,"iii":5.215},
{"x":114,"i":5.25,"ii":5.24,"iii":5.24},
{"x":116,"i":5.19,"ii":5.18,"iii":5.185},
{"x":118,"i":5.23,"ii":5.22,"iii":5.225},
{"x":120,"i":5.2,"ii":5.19,"iii":5.195},
{"x":122,"i":5.245,"ii":5.235,"iii":5.235},
{"x":124,"i":5.19,"ii":5.18,"iii":5.185},
{"x":126,"i":5.255,"ii":5.245,"iii":5.245},
{"x":128,"i":5.21,"ii":5.2,"iii":5.205},
{"x":130,"i":5.24,"ii":5.23,"iii":5.23},
{"x":132,"i":5.16,"ii":5.15,"iii":5.155},
{"x":134,"i":5.2,"ii":5.19,"iii":5.195},
{"x":136,"i":5.14,"ii":5.13,"iii":5.135},
{"x":138,"i":5.19,"ii":5.18,"iii":5.185},
{"x":140,"i":5.17,"ii":5.16,"iii":5.165},
{"x":142,"i":5.21,"ii":5.2,"iii":5.2},
{"x":144,"i":5.13,"ii":5.12,"iii":5.125},
{"x":146,"i":5.18,"ii":5.17,"iii":5.175},
{"x":148,"i":5.15,"ii":5.14,"iii":5.145},
{"x":150,"i":5.19,"ii":5.18,"iii":5.185},
{"x":152,"i":5.09,"ii":5.08,"iii":5.085},
{"x":154,"i":5.17,"ii":5.16,"iii":5.165},
{"x":156,"i":5.14,"ii":5.13,"iii":5.135},
{"x":158,"i":5.2,"ii":5.19,"iii":5.19},
{"x":160,"i":5.16,"ii":5.15,"iii":5.155},
{"x":162,"i":5.21,"ii":5.2,"iii":5.2},
{"x":164,"i":5.15,"ii":5.14,"iii":5.145},
{"x":166,"i":5.19,"ii":5.18,"iii":5.185},
{"x":168,"i":5.13,"ii":5.12,"iii":5.125},
{"x":170,"i":5.18,"ii":5.17,"iii":5.175},
{"x":172,"i":5.22,"ii":5.21,"iii":5.21},
{"x":174,"i":5.15,"ii":5.14,"iii":5.145},
{"x":176,"i":5.19,"ii":5.18,"iii":5.185},
{"x":178,"i":5.07,"ii":5.06,"iii":5.065},
{"x":180,"i":5.17,"ii":5.16,"iii":5.165},
{"x":182,"i":5.2,"ii":5.19,"iii":5.195},
{"x":184,"i":5.15,"ii":5.14,"iii":5.145},
{"x":186,"i":5.24,"ii":5.23,"iii":5.23},
{"x":188,"i":5.18,"ii":5.17,"iii":5.175},
{"x":190,"i":5.21,"ii":5.2,"iii":5.205},
{"x":192,"i":5.13,"ii":5.12,"iii":5.125},
{"x":194,"i":5.17,"ii":5.16,"iii":5.165},
{"x":196,"i":5.1,"ii":5.09,"iii":5.095},
{"x":198,"i":5.15,"ii":5.14,"iii":5.145},
{"x":200,"i":5.12,"ii":5.11,"iii":5.115},
{"x":202,"i":5.04,"ii":5.04,"iii":5.045},
{"x":204,"i":5.11,"ii":5.1,"iii":5.105},
{"x":206,"i":5.16,"ii":5.15,"iii":5.155},
{"x":208,"i":5.12,"ii":5.11,"iii":5.115},
{"x":210,"i":5.17,"ii":5.16,"iii":5.165},
{"x":212,"i":5.1,"ii":5.09,"iii":5.095},
{"x":214,"i":5.15,"ii":5.14,"iii":5.145},
{"x":216,"i":5.13,"ii":5.12,"iii":5.125},
{"x":218,"i":5.18,"ii":5.17,"iii":5.175},
{"x":220,"i":5.12,"ii":5.11,"iii":5.115},
{"x":222,"i":5.16,"ii":5.15,"iii":5.155},
{"x":224,"i":5.14,"ii":5.13,"iii":5.135},
{"x":226,"i":5.18,"ii":5.17,"iii":5.175},
{"x":228,"i":5.12,"ii":5.11,"iii":5.115},
{"x":230,"i":5.17,"ii":5.16,"iii":5.165},
{"x":232,"i":5.15,"ii":5.14,"iii":5.145},
{"x":234,"i":5.19,"ii":5.18,"iii":5.185},
{"x":236,"i":5.13,"ii":5.12,"iii":5.125},
{"x":238,"i":5.17,"ii":5.16,"iii":5.165},
{"x":240,"i":5.15,"ii":5.14,"iii":5.145},
{"x":242,"i":5.19,"ii":5.18,"iii":5.185},
{"x":244,"i":5.14,"ii":5.13,"iii":5.135},
{"x":246,"i":5.18,"ii":5.17,"iii":5.175},
{"x":248,"i":5.12,"ii":5.11,"iii":5.115},
{"x":250,"i":5.19,"ii":5.18,"iii":5.185},
{"x":252,"i":5.14,"ii":5.13,"iii":5.135},
{"x":254,"i":5.17,"ii":5.16,"iii":5.165},
{"x":256,"i":5.12,"ii":5.11,"iii":5.115},
{"x":258,"i":5.16,"ii":5.15,"iii":5.155},
{"x":260,"i":5.05,"ii":5.045,"iii":5.05},
{"x":262,"i":5.15,"ii":5.14,"iii":5.145},
{"x":264,"i":5.19,"ii":5.18,"iii":5.185},
{"x":266,"i":5.14,"ii":5.13,"iii":5.135},
{"x":268,"i":5.21,"ii":5.2,"iii":5.205},
{"x":270,"i":5.16,"ii":5.15,"iii":5.155},
{"x":272,"i":5.19,"ii":5.18,"iii":5.185},
{"x":274,"i":5.15,"ii":5.14,"iii":5.145},
{"x":276,"i":5.2,"ii":5.19,"iii":5.195},
{"x":278,"i":5.14,"ii":5.13,"iii":5.135},
{"x":280,"i":5.18,"ii":5.17,"iii":5.175},
{"x":282,"i":5.07,"ii":5.06,"iii":5.065},
{"x":284,"i":5.17,"ii":5.16,"iii":5.165},
{"x":286,"i":5.21,"ii":5.2,"iii":5.205},
{"x":288,"i":5.16,"ii":5.15,"iii":5.155},
{"x":290,"i":5.2,"ii":5.19,"iii":5.195},
{"x":292,"i":5.05,"ii":5.045,"iii":5.05},
{"x":294,"i":5.17,"ii":5.16,"iii":5.165},
{"x":296,"i":5.21,"ii":5.2,"iii":5.205},
{"x":298,"i":5.16,"ii":5.15,"iii":5.155},
{"x":300,"i":5.19,"ii":5.18,"iii":5.185},
{"x":302,"i":5.23,"ii":5.22,"iii":5.225},
{"x":304,"i":5.17,"ii":5.16,"iii":5.165},
{"x":306,"i":5.25,"ii":5.24,"iii":5.24},
{"x":308,"i":5.19,"ii":5.18,"iii":5.185},
{"x":310,"i":5.22,"ii":5.21,"iii":5.215},
{"x":312,"i":5.16,"ii":5.15,"iii":5.155},
{"x":314,"i":5.2,"ii":5.19,"iii":5.195},
{"x":316,"i":5.17,"ii":5.16,"iii":5.165},
{"x":318,"i":5.22,"ii":5.21,"iii":5.215},
{"x":320,"i":5.26,"ii":5.25,"iii":5.25},
{"x":322,"i":5.18,"ii":5.17,"iii":5.175},
{"x":324,"i":5.21,"ii":5.2,"iii":5.205},
{"x":326,"i":5.15,"ii":5.14,"iii":5.145},
{"x":328,"i":5.12,"ii":5.11,"iii":5.115},
{"x":330,"i":5.18,"ii":5.17,"iii":5.175},
{"x":332,"i":5.14,"ii":5.13,"iii":5.135},
{"x":334,"i":5.19,"ii":5.18,"iii":5.185},
{"x":336,"i":5.13,"ii":5.12,"iii":5.125},
{"x":338,"i":5.17,"ii":5.16,"iii":5.165},
{"x":340,"i":5.11,"ii":5.1,"iii":5.105},
{"x":342,"i":5.16,"ii":5.15,"iii":5.155},
{"x":344,"i":5.13,"ii":5.12,"iii":5.125},
{"x":346,"i":5.18,"ii":5.17,"iii":5.175},
{"x":348,"i":5.12,"ii":5.11,"iii":5.115},
{"x":350,"i":5.16,"ii":5.15,"iii":5.155},
{"x":352,"i":5.09,"ii":5.08,"iii":5.085},
{"x":354,"i":5.17,"ii":5.16,"iii":5.165},
{"x":356,"i":5.13,"ii":5.12,"iii":5.125},
{"x":358,"i":5.18,"ii":5.17,"iii":5.175},
{"x":360,"i":5.14,"ii":5.13,"iii":5.135},
{"x":362,"i":5.19,"ii":5.18,"iii":5.185},
{"x":364,"i":5.15,"ii":5.14,"iii":5.145},
{"x":366,"i":5.2,"ii":5.19,"iii":5.195},
{"x":368,"i":5.24,"ii":5.23,"iii":5.235},
{"x":370,"i":5.15,"ii":5.14,"iii":5.145},
{"x":372,"i":5.19,"ii":5.18,"iii":5.185},
{"x":374,"i":5.13,"ii":5.12,"iii":5.125},
{"x":376,"i":5.17,"ii":5.16,"iii":5.165},
{"x":378,"i":5.11,"ii":5.1,"iii":5.105},
{"x":380,"i":5.18,"ii":5.17,"iii":5.175},
{"x":382,"i":5.1,"ii":5.09,"iii":5.095},
{"x":383,"i":5.15,"ii":5.14,"iii":5.145}
],
"D4":[
{"x":0,"iv":5.124},{"x":4,"iv":5.139},{"x":6,"iv":5.203},{"x":10,"iv":5.179},{"x":13,"iv":5.124},{"x":19,"iv":5.116},{"x":25,"iv":5.139},{"x":29,"iv":5.171},{"x":32,"iv":5.116},{"x":38,"iv":5.124},{"x":42,"iv":5.061},{"x":48,"iv":5.116},{"x":52,"iv":5.076},{"x":55,"iv":5.058},{"x":59,"iv":5.108},{"x":62,"iv":5.147},{"x":66,"iv":5.084},{"x":71,"iv":5.139},{"x":75,"iv":5.116},{"x":81,"iv":5.203},{"x":84,"iv":5.155},{"x":88,"iv":5.171},{"x":92,"iv":5.218},{"x":97,"iv":5.195},{"x":100,"iv":5.234},{"x":104,"iv":5.25},{"x":108,"iv":5.155},{"x":111,"iv":5.195},{"x":116,"iv":5.163},{"x":120,"iv":5.242},{"x":123,"iv":5.195},{"x":126,"iv":5.242},{"x":130,"iv":5.218},{"x":134,"iv":5.124},{"x":140,"iv":5.218},{"x":145,"iv":5.155},{"x":149,"iv":5.124},{"x":153,"iv":5.155},{"x":159,"iv":5.211},{"x":163,"iv":5.124},{"x":168,"iv":5.171},{"x":172,"iv":5.124},{"x":176,"iv":5.171},{"x":179,"iv":5.108},{"x":184,"iv":5.171},{"x":186,"iv":5.226},{"x":191,"iv":5.155},{"x":195,"iv":5.108},{"x":199,"iv":5.076},{"x":202,"iv":5.058},{"x":207,"iv":5.124},{"x":211,"iv":5.155},{"x":215,"iv":5.076},{"x":220,"iv":5.139},{"x":224,"iv":5.108},{"x":228,"iv":5.147},{"x":233,"iv":5.171},{"x":237,"iv":5.147},{"x":241,"iv":5.187},{"x":246,"iv":5.124},{"x":250,"iv":5.139},{"x":254,"iv":5.108},{"x":259,"iv":5.058},{"x":263,"iv":5.163},{"x":267,"iv":5.171},{"x":272,"iv":5.187},{"x":276,"iv":5.155},{"x":280,"iv":5.211},{"x":283,"iv":5.108},{"x":288,"iv":5.203},{"x":292,"iv":5.058},{"x":296,"iv":5.171},{"x":301,"iv":5.139},{"x":305,"iv":5.242},{"x":309,"iv":5.171},{"x":314,"iv":5.203},{"x":319,"iv":5.234},{"x":324,"iv":5.171},{"x":328,"iv":5.147},{"x":332,"iv":5.124},{"x":337,"iv":5.155},{"x":341,"iv":5.203},{"x":345,"iv":5.139},{"x":350,"iv":5.171},{"x":354,"iv":5.139},{"x":358,"iv":5.147},{"x":363,"iv":5.124},{"x":367,"iv":5.234},{"x":370,"iv":5.124},{"x":373,"iv":5.124},{"x":377,"iv":5.108},{"x":380,"iv":5.132},{"x":383,"iv":5.139}
]
},
"bounds":"flush",
"columns":2,
"spacing":{"row":20,"column":86},
"concat":[
{"width":584,"height":55,"data":{"name":"A"},"layer":[
{"mark":{"type":"line","color":"#EE6A50","strokeWidth":1.1,"clip":false},"encoding":{"x":{"field":"x","type":"quantitative","scale":{"domain":[-5.9,381.5],"nice":false,"zero":false},"axis":{"labels":false,"ticks":false,"title":null}},"y":{"field":"i","type":"quantitative","scale":{"domain":[4.955,5.28],"nice":false,"zero":false},"axis":{"title":"H(τ)","tickCount":100,"labelOverlap":false,"values":[5,5.05,5.1,5.15,5.2,5.25],"labelExpr":"datum.value==5||datum.value==5.2?format(datum.value,'.2f'):''"}}}},
{"data":{"values":[{}]},"mark":"rule","encoding":{"x":{"datum":-5.9},"y":{"datum":5},"y2":{"datum":5.25}}},
{"data":{"values":[{"t":"i"}]},"mark":{"type":"text","fontSize":25,"align":"left","baseline":"alphabetic","dx":8,"dy":13},"encoding":{"text":{"field":"t"},"x":{"datum":-5.9},"y":{"datum":5.28}}},
{"data":{"values":[{"t":"a"}]},"mark":{"type":"text","fontSize":25,"fontWeight":"bold","align":"left","baseline":"alphabetic","dx":-49.5,"dy":-32.7},"encoding":{"text":{"field":"t"},"x":{"datum":-5.9},"y":{"datum":5.28}}}
]},
{"width":586,"height":55,"data":{"name":"B"},"layer":[
{"mark":{"type":"line","color":"#EE6A50","strokeWidth":1.1,"clip":false},"encoding":{"x":{"field":"x","type":"quantitative","scale":{"domain":[-11.2,383.5],"nice":false,"zero":false},"axis":{"labels":false,"ticks":false,"title":null}},"y":{"field":"i","type":"quantitative","scale":{"domain":[4.952,5.28],"nice":false,"zero":false},"axis":{"title":"H(τ)","tickCount":100,"labelOverlap":false,"values":[5,5.05,5.1,5.15,5.2,5.25],"labelExpr":"datum.value==5||datum.value==5.2?format(datum.value,'.2f'):''"}}}},
{"data":{"values":[{}]},"mark":"rule","encoding":{"x":{"datum":-11.2},"y":{"datum":5},"y2":{"datum":5.25}}},
{"data":{"values":[{"t":"i"}]},"mark":{"type":"text","fontSize":25,"align":"left","baseline":"alphabetic","dx":8,"dy":13},"encoding":{"text":{"field":"t"},"x":{"datum":-11.2},"y":{"datum":5.28}}},
{"data":{"values":[{"t":"b"}]},"mark":{"type":"text","fontSize":25,"fontWeight":"bold","align":"left","baseline":"alphabetic","dx":-56.4,"dy":-32.7},"encoding":{"text":{"field":"t"},"x":{"datum":-11.2},"y":{"datum":5.28}}}
]},
{"width":584,"height":55,"data":{"name":"A"},"layer":[
{"mark":{"type":"line","color":"#00868B","strokeWidth":1.1,"clip":false},"encoding":{"x":{"field":"x","type":"quantitative","scale":{"domain":[-5.9,381.5],"nice":false,"zero":false},"axis":{"labels":false,"ticks":false,"title":null}},"y":{"field":"ii","type":"quantitative","scale":{"domain":[4.955,5.28],"nice":false,"zero":false},"axis":{"title":"H(τ)","tickCount":100,"labelOverlap":false,"values":[5,5.05,5.1,5.15,5.2,5.25],"labelExpr":"datum.value==5||datum.value==5.2?format(datum.value,'.2f'):''"}}}},
{"data":{"values":[{}]},"mark":"rule","encoding":{"x":{"datum":-5.9},"y":{"datum":5},"y2":{"datum":5.25}}},
{"data":{"values":[{"t":"ii"}]},"mark":{"type":"text","fontSize":25,"align":"left","baseline":"alphabetic","dx":8,"dy":13},"encoding":{"text":{"field":"t"},"x":{"datum":-5.9},"y":{"datum":5.28}}}
]},
{"width":586,"height":55,"data":{"name":"B"},"layer":[
{"mark":{"type":"line","color":"#00868B","strokeWidth":1.1,"clip":false},"encoding":{"x":{"field":"x","type":"quantitative","scale":{"domain":[-11.2,383.5],"nice":false,"zero":false},"axis":{"labels":false,"ticks":false,"title":null}},"y":{"field":"ii","type":"quantitative","scale":{"domain":[4.952,5.28],"nice":false,"zero":false},"axis":{"title":"H(τ)","tickCount":100,"labelOverlap":false,"values":[5,5.05,5.1,5.15,5.2,5.25],"labelExpr":"datum.value==5||datum.value==5.2?format(datum.value,'.2f'):''"}}}},
{"data":{"values":[{}]},"mark":"rule","encoding":{"x":{"datum":-11.2},"y":{"datum":5},"y2":{"datum":5.25}}},
{"data":{"values":[{"t":"ii"}]},"mark":{"type":"text","fontSize":25,"align":"left","baseline":"alphabetic","dx":8,"dy":13},"encoding":{"text":{"field":"t"},"x":{"datum":-11.2},"y":{"datum":5.28}}}
]},
{"width":584,"height":55,"data":{"name":"A"},"layer":[
{"mark":{"type":"line","color":"#E066FF","strokeWidth":1.1,"clip":false},"encoding":{"x":{"field":"x","type":"quantitative","scale":{"domain":[-5.9,381.5],"nice":false,"zero":false},"axis":{"labels":false,"ticks":false,"title":null}},"y":{"field":"iii","type":"quantitative","scale":{"domain":[4.955,5.28],"nice":false,"zero":false},"axis":{"title":"H(τ)","tickCount":100,"labelOverlap":false,"values":[5,5.05,5.1,5.15,5.2,5.25],"labelExpr":"datum.value==5||datum.value==5.2?format(datum.value,'.2f'):''"}}}},
{"data":{"values":[{}]},"mark":"rule","encoding":{"x":{"datum":-5.9},"y":{"datum":5},"y2":{"datum":5.25}}},
{"data":{"values":[{"t":"iii"}]},"mark":{"type":"text","fontSize":25,"align":"left","baseline":"alphabetic","dx":8,"dy":13},"encoding":{"text":{"field":"t"},"x":{"datum":-5.9},"y":{"datum":5.28}}}
]},
{"width":586,"height":55,"data":{"name":"B"},"layer":[
{"mark":{"type":"line","color":"#E066FF","strokeWidth":1.1,"clip":false},"encoding":{"x":{"field":"x","type":"quantitative","scale":{"domain":[-11.2,383.5],"nice":false,"zero":false},"axis":{"labels":false,"ticks":false,"title":null}},"y":{"field":"iii","type":"quantitative","scale":{"domain":[4.952,5.28],"nice":false,"zero":false},"axis":{"title":"H(τ)","tickCount":100,"labelOverlap":false,"values":[5,5.05,5.1,5.15,5.2,5.25],"labelExpr":"datum.value==5||datum.value==5.2?format(datum.value,'.2f'):''"}}}},
{"data":{"values":[{}]},"mark":"rule","encoding":{"x":{"datum":-11.2},"y":{"datum":5},"y2":{"datum":5.25}}},
{"data":{"values":[{"t":"iii"}]},"mark":{"type":"text","fontSize":25,"align":"left","baseline":"alphabetic","dx":8,"dy":13},"encoding":{"text":{"field":"t"},"x":{"datum":-11.2},"y":{"datum":5.28}}}
]},
{"width":584,"height":55,"data":{"name":"A"},"layer":[
{"mark":{"type":"line","color":"#00B2EE","strokeWidth":1.1,"clip":false},"encoding":{"x":{"field":"x","type":"quantitative","scale":{"domain":[-5.9,381.5],"nice":false,"zero":false},"axis":{"title":null,"tickCount":100,"labelOverlap":false,"values":[9,19,28,38,47,57,66,76,85,94,104,113,123,132,142,151,161,171,180,189,199,209,218,228,237,247,256,266,275,285,295,304,314,323,333,342,352,361,371,380],"labelExpr":"(datum.value%12<9?'0':'')+(datum.value%12+1)+'-'+(1985+floor(datum.value/12))"}},"y":{"field":"iv","type":"quantitative","scale":{"domain":[4.955,5.28],"nice":false,"zero":false},"axis":{"title":"H(τ)","tickCount":100,"labelOverlap":false,"values":[5,5.05,5.1,5.15,5.2,5.25],"labelExpr":"datum.value==5||datum.value==5.2?format(datum.value,'.2f'):''"}}}},
{"data":{"values":[{}]},"mark":"rule","encoding":{"x":{"datum":-5.9},"y":{"datum":5},"y2":{"datum":5.25}}},
{"data":{"values":[{}]},"mark":"rule","encoding":{"x":{"datum":9},"x2":{"datum":380},"y":{"datum":4.955}}},
{"data":{"values":[{"t":"iv"}]},"mark":{"type":"text","fontSize":25,"align":"left","baseline":"alphabetic","dx":8,"dy":13},"encoding":{"text":{"field":"t"},"x":{"datum":-5.9},"y":{"datum":5.28}}}
]},
{"width":586,"height":55,"data":{"name":"B"},"layer":[
{"mark":{"type":"line","color":"#00B2EE","strokeWidth":1.1,"clip":false},"encoding":{"x":{"field":"x","type":"quantitative","scale":{"domain":[-11.2,383.5],"nice":false,"zero":false},"axis":{"title":null,"tickCount":100,"labelOverlap":false,"values":[4,14,23,33,42,52,61,71,80,90,99,109,118,128,137,147,156,166,175,185,194,204,213,223,233,242,252,261,271,280,290,299,309,318,328,338,347,357,366,376],"labelExpr":"(datum.value%12<9?'0':'')+(datum.value%12+1)+'-'+(1985+floor(datum.value/12))"}},"y":{"field":"iv","type":"quantitative","scale":{"domain":[4.952,5.28],"nice":false,"zero":false},"axis":{"title":"H(τ)","tickCount":100,"labelOverlap":false,"values":[5,5.05,5.1,5.15,5.2,5.25],"labelExpr":"datum.value==5||datum.value==5.2?format(datum.value,'.2f'):''"}}}},
{"data":{"values":[{}]},"mark":"rule","encoding":{"x":{"datum":-11.2},"y":{"datum":5},"y2":{"datum":5.25}}},
{"data":{"values":[{}]},"mark":"rule","encoding":{"x":{"datum":4},"x2":{"datum":376},"y":{"datum":4.952}}},
{"data":{"values":[{"t":"iv"}]},"mark":{"type":"text","fontSize":25,"align":"left","baseline":"alphabetic","dx":8,"dy":13},"encoding":{"text":{"field":"t"},"x":{"datum":-11.2},"y":{"datum":5.28}}}
]},
{"width":584,"height":71,"data":{"values":[]},"mark":"point"},
{"width":586,"height":71,"data":{"values":[]},"mark":"point"},
{"width":584,"height":55,"data":{"name":"C"},"layer":[
{"mark":{"type":"line","color":"#EE6A50","strokeWidth":1.1,"clip":false},"encoding":{"x":{"field":"x","type":"quantitative","scale":{"domain":[-14.3,383.5],"nice":false,"zero":false},"axis":{"labels":false,"ticks":false,"title":null}},"y":{"field":"i","type":"quantitative","scale":{"domain":[4.96,5.28],"nice":false,"zero":false},"axis":{"title":"H(τ)","tickCount":100,"labelOverlap":false,"values":[5,5.05,5.1,5.15,5.2,5.25],"labelExpr":"datum.value==5||datum.value==5.2?format(datum.value,'.2f'):''"}}}},
{"data":{"values":[{}]},"mark":"rule","encoding":{"x":{"datum":-14.3},"y":{"datum":5},"y2":{"datum":5.25}}},
{"data":{"values":[{"t":"i"}]},"mark":{"type":"text","fontSize":25,"align":"left","baseline":"alphabetic","dx":8,"dy":13},"encoding":{"text":{"field":"t"},"x":{"datum":-14.3},"y":{"datum":5.28}}},
{"data":{"values":[{"t":"c"}]},"mark":{"type":"text","fontSize":25,"fontWeight":"bold","align":"left","baseline":"alphabetic","dx":-49.6,"dy":-5},"encoding":{"text":{"field":"t"},"x":{"datum":-14.3},"y":{"datum":5.28}}}
]},
{"width":581,"height":55,"data":{"name":"D"},"layer":[
{"mark":{"type":"line","color":"#EE6A50","strokeWidth":1.1,"clip":false},"encoding":{"x":{"field":"x","type":"quantitative","scale":{"domain":[-15.3,383.5],"nice":false,"zero":false},"axis":{"labels":false,"ticks":false,"title":null}},"y":{"field":"i","type":"quantitative","scale":{"domain":[5.022,5.278],"nice":false,"zero":false},"axis":{"title":"H(τ)","tickCount":100,"labelOverlap":false,"values":[5.05,5.1,5.15,5.2,5.25],"labelExpr":"datum.value==5.05||datum.value==5.25?format(datum.value,'.2f'):''"}}}},
{"data":{"values":[{}]},"mark":"rule","encoding":{"x":{"datum":-15.3},"y":{"datum":5.05},"y2":{"datum":5.25}}},
{"data":{"values":[{"t":"i"}]},"mark":{"type":"text","fontSize":25,"align":"left","baseline":"alphabetic","dx":8,"dy":13},"encoding":{"text":{"field":"t"},"x":{"datum":-15.3},"y":{"datum":5.278}}},
{"data":{"values":[{"t":"d"}]},"mark":{"type":"text","fontSize":25,"fontWeight":"bold","align":"left","baseline":"alphabetic","dx":-62,"dy":-5},"encoding":{"text":{"field":"t"},"x":{"datum":-15.3},"y":{"datum":5.278}}}
]},
{"width":584,"height":55,"data":{"name":"C"},"layer":[
{"mark":{"type":"line","color":"#00868B","strokeWidth":1.1,"clip":false},"encoding":{"x":{"field":"x","type":"quantitative","scale":{"domain":[-14.3,383.5],"nice":false,"zero":false},"axis":{"labels":false,"ticks":false,"title":null}},"y":{"field":"ii","type":"quantitative","scale":{"domain":[4.96,5.28],"nice":false,"zero":false},"axis":{"title":"H(τ)","tickCount":100,"labelOverlap":false,"values":[5,5.05,5.1,5.15,5.2,5.25],"labelExpr":"datum.value==5||datum.value==5.2?format(datum.value,'.2f'):''"}}}},
{"data":{"values":[{}]},"mark":"rule","encoding":{"x":{"datum":-14.3},"y":{"datum":5},"y2":{"datum":5.25}}},
{"data":{"values":[{"t":"ii"}]},"mark":{"type":"text","fontSize":25,"align":"left","baseline":"alphabetic","dx":8,"dy":13},"encoding":{"text":{"field":"t"},"x":{"datum":-14.3},"y":{"datum":5.28}}}
]},
{"width":581,"height":55,"data":{"name":"D"},"layer":[
{"mark":{"type":"line","color":"#00868B","strokeWidth":1.1,"clip":false},"encoding":{"x":{"field":"x","type":"quantitative","scale":{"domain":[-15.3,383.5],"nice":false,"zero":false},"axis":{"labels":false,"ticks":false,"title":null}},"y":{"field":"ii","type":"quantitative","scale":{"domain":[5.032,5.272],"nice":false,"zero":false},"axis":{"title":"H(τ)","tickCount":100,"labelOverlap":false,"values":[5.05,5.1,5.15,5.2,5.25],"labelExpr":"datum.value==5.05||datum.value==5.2?format(datum.value,'.2f'):''"}}}},
{"data":{"values":[{}]},"mark":"rule","encoding":{"x":{"datum":-15.3},"y":{"datum":5.05},"y2":{"datum":5.25}}},
{"data":{"values":[{"t":"ii"}]},"mark":{"type":"text","fontSize":25,"align":"left","baseline":"alphabetic","dx":8,"dy":13},"encoding":{"text":{"field":"t"},"x":{"datum":-15.3},"y":{"datum":5.272}}}
]},
{"width":584,"height":55,"data":{"name":"C"},"layer":[
{"mark":{"type":"line","color":"#E066FF","strokeWidth":1.1,"clip":false},"encoding":{"x":{"field":"x","type":"quantitative","scale":{"domain":[-14.3,383.5],"nice":false,"zero":false},"axis":{"labels":false,"ticks":false,"title":null}},"y":{"field":"iii","type":"quantitative","scale":{"domain":[4.96,5.28],"nice":false,"zero":false},"axis":{"title":"H(τ)","tickCount":100,"labelOverlap":false,"values":[5,5.05,5.1,5.15,5.2,5.25],"labelExpr":"datum.value==5||datum.value==5.2?format(datum.value,'.2f'):''"}}}},
{"data":{"values":[{}]},"mark":"rule","encoding":{"x":{"datum":-14.3},"y":{"datum":5},"y2":{"datum":5.25}}},
{"data":{"values":[{"t":"iii"}]},"mark":{"type":"text","fontSize":25,"align":"left","baseline":"alphabetic","dx":8,"dy":13},"encoding":{"text":{"field":"t"},"x":{"datum":-14.3},"y":{"datum":5.28}}}
]},
{"width":581,"height":55,"data":{"name":"D"},"layer":[
{"mark":{"type":"line","color":"#E066FF","strokeWidth":1.1,"clip":false},"encoding":{"x":{"field":"x","type":"quantitative","scale":{"domain":[-15.3,383.5],"nice":false,"zero":false},"axis":{"labels":false,"ticks":false,"title":null}},"y":{"field":"iii","type":"quantitative","scale":{"domain":[5.032,5.272],"nice":false,"zero":false},"axis":{"title":"H(τ)","tickCount":100,"labelOverlap":false,"values":[5.05,5.1,5.15,5.2,5.25],"labelExpr":"datum.value==5.05||datum.value==5.2?format(datum.value,'.2f'):''"}}}},
{"data":{"values":[{}]},"mark":"rule","encoding":{"x":{"datum":-15.3},"y":{"datum":5.05},"y2":{"datum":5.25}}},
{"data":{"values":[{"t":"iii"}]},"mark":{"type":"text","fontSize":25,"align":"left","baseline":"alphabetic","dx":8,"dy":13},"encoding":{"text":{"field":"t"},"x":{"datum":-15.3},"y":{"datum":5.272}}}
]},
{"width":584,"height":55,"data":{"name":"C"},"layer":[
{"mark":{"type":"line","color":"#00B2EE","strokeWidth":1.1,"clip":false},"encoding":{"x":{"field":"x","type":"quantitative","scale":{"domain":[-14.3,383.5],"nice":false,"zero":false},"axis":{"title":null,"tickCount":100,"labelOverlap":false,"values":[1,11,20,30,39,49,58,68,77,87,96,106,115,125,134,144,153,163,172,182,191,201,211,220,230,239,249,258,268,277,287,296,306,316,325,335,344,354,363,373,382],"labelExpr":"(datum.value%12<9?'0':'')+(datum.value%12+1)+'-'+(1985+floor(datum.value/12))"}},"y":{"field":"iv","type":"quantitative","scale":{"domain":[4.96,5.28],"nice":false,"zero":false},"axis":{"title":"H(τ)","tickCount":100,"labelOverlap":false,"values":[5,5.05,5.1,5.15,5.2,5.25],"labelExpr":"datum.value==5||datum.value==5.2?format(datum.value,'.2f'):''"}}}},
{"data":{"values":[{}]},"mark":"rule","encoding":{"x":{"datum":-14.3},"y":{"datum":5},"y2":{"datum":5.25}}},
{"data":{"values":[{}]},"mark":"rule","encoding":{"x":{"datum":1},"x2":{"datum":382},"y":{"datum":4.96}}},
{"data":{"values":[{"t":"iv"}]},"mark":{"type":"text","fontSize":25,"align":"left","baseline":"alphabetic","dx":8,"dy":13},"encoding":{"text":{"field":"t"},"x":{"datum":-14.3},"y":{"datum":5.28}}}
]},
{"width":581,"height":55,"data":{"name":"D4"},"layer":[
{"mark":{"type":"line","color":"#00B2EE","strokeWidth":1.1,"clip":false},"encoding":{"x":{"field":"x","type":"quantitative","scale":{"domain":[-15.3,383.5],"nice":false,"zero":false},"axis":{"title":null,"tickCount":100,"labelOverlap":false,"values":[0,10,20,29,38,48,57,67,76,86,95,105,114,124,133,143,152,162,171,181,190,200,210,219,229,238,248,257,267,276,286,295,305,315,324,334,343,353,362,372,381],"labelExpr":"(datum.value%12<9?'0':'')+(datum.value%12+1)+'-'+(1985+floor(datum.value/12))"}},"y":{"field":"iv","type":"quantitative","scale":{"domain":[5.052,5.258],"nice":false,"zero":false},"axis":{"title":"H(τ)","tickCount":100,"labelOverlap":false,"values":[5.1,5.15,5.2,5.25],"labelExpr":"datum.value==5.1||datum.value==5.25?format(datum.value,'.2f'):''"}}}},
{"data":{"values":[{}]},"mark":"rule","encoding":{"x":{"datum":-15.3},"y":{"datum":5.1},"y2":{"datum":5.25}}},
{"data":{"values":[{}]},"mark":"rule","encoding":{"x":{"datum":0},"x2":{"datum":381},"y":{"datum":5.052}}},
{"data":{"values":[{"t":"iv"}]},"mark":{"type":"text","fontSize":25,"align":"left","baseline":"alphabetic","dx":8,"dy":13},"encoding":{"text":{"field":"t"},"x":{"datum":-15.3},"y":{"datum":5.258}}}
]}
]
}
